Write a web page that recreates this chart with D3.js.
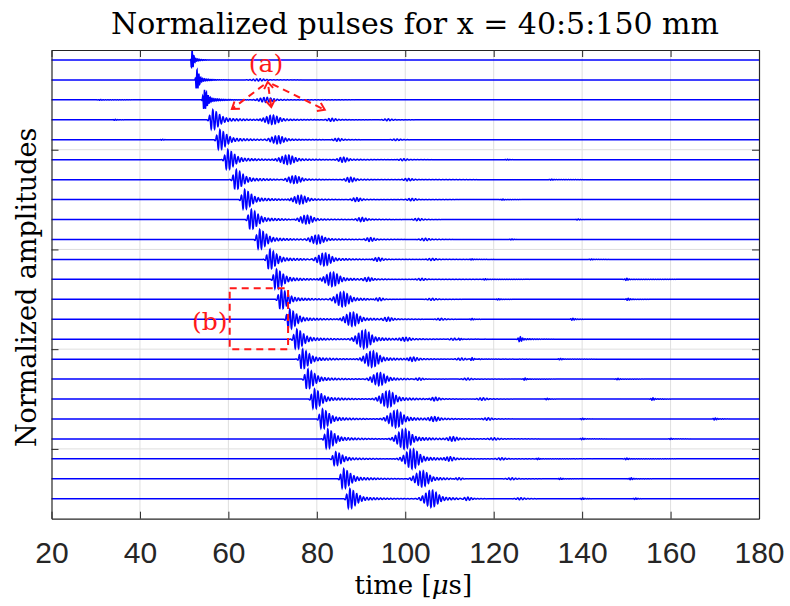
<!DOCTYPE html>
<html>
<head>
<meta charset="utf-8">
<script src="https://cdn.jsdelivr.net/npm/d3@7"></script>
<style>
  body { margin: 0; background: #fff; }
  svg { display: block; }
</style>
</head>
<body>
<div id="chart"></div>
<script>
// source positions x = 40:5:150 mm, one trace each
const positions = [40, 45, 50, 55, 60, 65, 70, 75, 80, 85, 90, 95, 100, 105, 110, 115, 120, 125, 130, 135, 140, 145, 150];

// wave packets: arrival time [us] and relative amplitude
const firstArrival = [51.7, 52.8, 54.5, 56.3, 57.9, 59.7, 61.6, 63.5, 65.0, 66.9, 69.2, 70.7, 71.8, 73.7, 75.3, 76.6, 77.8, 79.3, 81.1, 82.3, 84.1, 85.9, 87.3];
const firstAmp = [1, 1, 1, 1, 1, 1, 1, 1, 1, 1, 1, 1, 1, 1, 1, 1, 1, 1, 1, 1, 0.7, 1, 1];
const firstWidth = [0.25, 0.35, 0.5, 1, 1, 1, 1, 1, 1, 1, 1, 1, 1, 1, 1, 1, 1, 1, 1, 1, 1, 1, 1];

const secondArrival = [67.0, 67.0, 68.6, 70.0, 71.2, 73.5, 75.0, 76.3, 77.7, 80.2, 81.8, 83.6, 85.9, 88.1, 90.8, 92.6, 94.2, 96.2, 98.0, 99.9, 101.7, 103.9, 106.0];
const secondAmp = [0, 0.1, 0.25, 0.45, 0.4, 0.45, 0.4, 0.45, 0.45, 0.45, 0.65, 0.7, 0.75, 0.7, 0.9, 0.8, 0.65, 0.8, 0.85, 1.0, 1.0, 0.8, 0.85];

const thirdArrival = [83.0, 83.0, 83.0, 83.3, 84.7, 85.9, 87.5, 88.9, 90.1, 92.0, 93.8, 91.5, 94.0, 96.0, 100.0, 101.7, 103.0, 106.7, 106.5, 110.7, 110.0, 112.0, 114.0];
const thirdAmp = [0, 0, 0, 0.15, 0.15, 0.25, 0.25, 0.2, 0.2, 0.2, 0.2, 0.2, 0.2, 0.2, 0.15, 0.2, 0.15, 0.2, 0.2, 0.2, 0.2, 0.15, 0.2];

const fourthArrival = [96.0, 96.0, 96.0, 96.0, 98.0, 99.5, 100.6, 101.4, 102.8, 104.4, 106.0, 103.6, 106.0, 108.0, 111.0, 112.6, 114.0, 117.5, 118.6, 120.0, 121.7, 124.0, 126.0];
const fourthAmp = [0, 0, 0, 0.1, 0.08, 0.1, 0.12, 0.12, 0.12, 0.12, 0.1, 0.1, 0.1, 0.1, 0.1, 0.1, 0.1, 0.12, 0.12, 0.1, 0.1, 0.1, 0.1];

// small isolated echoes: [trace, time, amplitude]
const minorEchoes = [
  [2, 31.0, 0.04], [3, 34.3, 0.05], [4, 45.0, 0.04], [5, 123.0, 0.04], [6, 133.0, 0.05],
  [7, 122.0, 0.05], [8, 139.0, 0.05], [9, 124.0, 0.05], [10, 115.0, 0.06], [10, 142.0, 0.05],
  [11, 150.0, 0.1], [11, 118.0, 0.06], [12, 150.3, 0.1], [12, 121.0, 0.06], [13, 137.8, 0.1],
  [13, 115.0, 0.07], [14, 125.9, 0.25], [14, 112.0, 0.08], [15, 115.0, 0.12], [15, 135.0, 0.07],
  [16, 127.0, 0.1], [16, 148.0, 0.07], [17, 155.9, 0.12], [17, 132.0, 0.07], [18, 170.0, 0.1],
  [18, 140.0, 0.07], [19, 140.0, 0.08], [19, 160.0, 0.06], [20, 150.0, 0.08], [20, 130.0, 0.07],
  [21, 151.0, 0.1], [21, 135.0, 0.07], [22, 140.0, 0.08], [22, 152.0, 0.07]
];

const xTicks = [20, 40, 60, 80, 100, 120, 140, 160, 180];
const yTicks = [5, 10, 15, 20];

const width = 790, height = 606;
const margin = {top: 50, right: 31, bottom: 87.3, left: 51.5};
const carrier = 1.3; // MHz

const svg = d3.select("#chart").append("svg")
  .attr("width", width)
  .attr("height", height);

const x = d3.scaleLinear().domain([20, 180]).range([margin.left, width - margin.right]);
const y = d3.scaleLinear().domain([0, 23.5]).range([margin.top, height - margin.bottom]);

// one tone burst: fast rise, short decay and a ringing tail
function burst(t, t0, amp, w, rise, decay) {
  const dt = t - t0;
  if (dt < -20 || dt > 40) return 0;
  let env;
  if (dt < 0) env = Math.exp(-Math.pow(dt / (rise * w), 2));
  else env = 0.72 * Math.exp(-Math.pow(dt / (decay * w), 2)) + 0.28 * Math.exp(-dt / (5 * w));
  return amp * env * Math.sin(2 * Math.PI * carrier * dt / Math.max(w, 0.55));
}

const times = d3.range(20, 180.001, 0.04);

const traces = positions.map((p, i) => {
  const packets = [
    [firstArrival[i], firstAmp[i], firstWidth[i], 0.6, 1.9],
    [secondArrival[i], secondAmp[i], 1, 2.0, 1.6],
    [thirdArrival[i], thirdAmp[i], 1, 1.2, 1.2],
    [fourthArrival[i], fourthAmp[i], 1, 1.2, 1.2]
  ];
  minorEchoes.filter(e => e[0] === i).forEach(e => packets.push([e[1], e[2], 0.7, 0.6, 0.8]));
  const values = times.map(t => d3.sum(packets, k => k[1] > 0 ? burst(t, k[0], k[1], k[2], k[3], k[4]) : 0));
  const peak = d3.max(values, v => Math.abs(v)) || 1;
  return values.map((v, j) => ({t: times[j], v: i + 0.5 - 0.5 * v / peak}));
});

// grid
const grid = svg.append("g").attr("stroke", "#dfdfdf").attr("stroke-width", 1);
grid.selectAll(".gx").data(xTicks.slice(1, -1)).enter().append("line")
  .attr("x1", d => x(d)).attr("x2", d => x(d))
  .attr("y1", y(0)).attr("y2", y(23.5));
grid.selectAll(".gy").data(yTicks).enter().append("line")
  .attr("x1", x(20)).attr("x2", x(180))
  .attr("y1", d => y(d)).attr("y2", d => y(d));

// traces
const line = d3.line().x(d => x(d.t)).y(d => y(d.v));
svg.append("g").selectAll("path").data(traces).enter().append("path")
  .attr("d", line)
  .attr("fill", "none")
  .attr("stroke", "#0000ff")
  .attr("stroke-width", 1.5);

// axes
const axisColor = "#262626";
function styleAxis(g) {
  g.selectAll("path, line").attr("stroke", axisColor);
  g.select(".domain").attr("stroke-width", 1.2);
}
svg.append("g")
  .attr("transform", `translate(0,${y(23.5)})`)
  .call(d3.axisBottom(x).tickValues(xTicks).tickSizeInner(-7).tickSizeOuter(0).tickPadding(23))
  .call(styleAxis)
  .call(g => g.selectAll("text")
    .attr("fill", axisColor)
    .style("font-family", "'Liberation Sans', Arial, sans-serif")
    .style("font-size", "30px"));
svg.append("g")
  .attr("transform", `translate(0,${y(0)})`)
  .call(d3.axisTop(x).tickValues(xTicks).tickSizeInner(-7).tickSizeOuter(0).tickFormat(""))
  .call(styleAxis);
svg.append("g")
  .attr("transform", `translate(${x(20)},0)`)
  .call(d3.axisLeft(y).tickValues(yTicks).tickSizeInner(-7).tickSizeOuter(0).tickFormat(""))
  .call(styleAxis);
svg.append("g")
  .attr("transform", `translate(${x(180)},0)`)
  .call(d3.axisRight(y).tickValues(yTicks).tickSizeInner(-7).tickSizeOuter(0).tickFormat(""))
  .call(styleAxis);

// texts
const serif = "'DejaVu Serif', serif";
svg.append("text")
  .attr("x", 415).attr("y", 34)
  .attr("text-anchor", "middle")
  .style("font-family", serif).style("font-size", "30px")
  .text("Normalized pulses for x = 40:5:150 mm");

svg.append("text")
  .attr("transform", `translate(36,${(y(0) + y(23.5)) / 2 + 3}) rotate(-90)`)
  .attr("text-anchor", "middle")
  .style("font-family", serif).style("font-size", "27px")
  .text("Normalized amplitudes");

const xl = svg.append("text")
  .attr("x", (x(20) + x(180)) / 2 + 8).attr("y", 594)
  .attr("text-anchor", "middle")
  .style("font-family", serif).style("font-size", "26px");
xl.append("tspan").text("time [");
xl.append("tspan").style("font-style", "italic").text("μ");
xl.append("tspan").text("s]");

// annotations
const red = "#ff1a1a";
const ann = svg.append("g").attr("stroke", red).attr("fill", "none").attr("stroke-width", 2);

svg.append("text")
  .attr("x", x(68.5)).attr("y", y(1.1))
  .attr("text-anchor", "middle").attr("fill", red)
  .style("font-family", serif).style("font-size", "25px")
  .text("(a)");
svg.append("text")
  .attr("x", x(55.8)).attr("y", y(14.04))
  .attr("text-anchor", "middle").attr("fill", red)
  .style("font-family", serif).style("font-size", "25px")
  .text("(b)");

ann.append("rect")
  .attr("x", x(60.3)).attr("y", y(11.95))
  .attr("width", x(73.5) - x(60.3)).attr("height", y(15.0) - y(11.95))
  .attr("stroke-dasharray", "7,5");

const apex = [68.9, 1.6];
const arrowEnds = [[60.8, 2.96], [69.7, 2.86], [81.8, 3.0]];
function head(px, py, ang) {
  const L = 8, a = 0.6;
  ann.append("polyline")
    .attr("points", [
      [px - L * Math.cos(ang - a), py - L * Math.sin(ang - a)],
      [px, py],
      [px - L * Math.cos(ang + a), py - L * Math.sin(ang + a)]
    ].map(p => p.join(",")).join(" "));
}
arrowEnds.forEach((e, k) => {
  const x0 = x(apex[0]), y0 = y(apex[1]), x1 = x(e[0]), y1 = y(e[1]);
  const ang = Math.atan2(y1 - y0, x1 - x0);
  ann.append("line")
    .attr("x1", x0 + 5 * Math.cos(ang)).attr("y1", y0 + 5 * Math.sin(ang))
    .attr("x2", x1).attr("y2", y1)
    .attr("stroke-dasharray", "7,5");
  head(x1, y1, ang);
  if (k === 1) head(x0, y0, ang + Math.PI);
});
</script>
</body>
</html>
